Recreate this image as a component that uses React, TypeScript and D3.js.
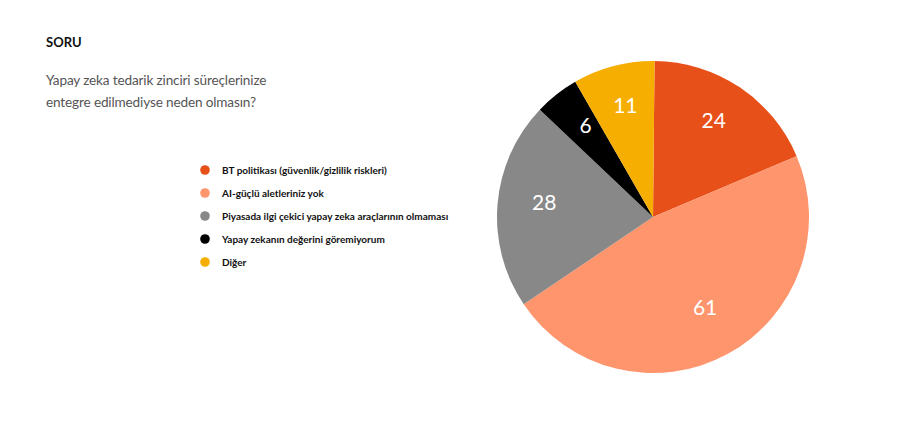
import * as d3 from 'd3'

const categories = [
    'BT politikası (güvenlik/gizlilik riskleri)',
    'AI-güçlü aletleriniz yok',
    'Piyasada ilgi çekici yapay zeka araçlarının olmaması',
    'Yapay zekanın değerini göremiyorum',
    'Diğer'
]
const values = [24, 61, 28, 6, 11]
const colors = ['#E8501A', '#FF956D', '#888888', '#000000', '#F6AE00']

const title = 'SORU'
const subtitle = ['Yapay zeka tedarik zinciri süreçlerinize', 'entegre edilmediyse neden olmasın?']

const W = 900
const H = 434
const FONT = "Lato, 'Noto Sans', sans-serif"

const App = () => {
    const radius = 156
    const cx = 653
    const cy = 217

    const data = values.map((v, i) => ({ value: v, label: categories[i], color: colors[i] }))
    const pie = d3
        .pie<{ value: number }>()
        .sort(null)
        .startAngle(0.01)
        .endAngle(Math.PI * 2 + 0.01)
        .value(d => d.value)
    const arcs = pie(data)
    const arc = d3.arc<d3.PieArcDatum<any>>().innerRadius(0).outerRadius(radius)
    const labelArc = d3
        .arc<d3.PieArcDatum<any>>()
        .innerRadius(radius * 0.7)
        .outerRadius(radius * 0.7)

    // legend rows
    const legendY = d3
        .scalePoint<number>()
        .domain(d3.range(categories.length))
        .range([170, 262])

    return (
        <svg
            width={W}
            height={H}
            style={{ position: 'absolute', left: 0, top: 0, background: '#fff' }}
            fontFamily={FONT}
        >
            <text x={46} y={47} fontSize={13} fontWeight={700} fill="#111">
                {title}
            </text>
            {subtitle.map((line, i) => (
                <text key={i} x={46} y={85 + i * 22} fontSize={13.6} letterSpacing={-0.15} fill="#555">
                    {line}
                </text>
            ))}

            <g>
                {data.map((d, i) => (
                    <g key={i} transform={`translate(205, ${legendY(i)})`}>
                        <circle r={4.8} fill={d.color} />
                        <text x={17} y={3.5} fontSize={10} fontWeight={700} fill="#111">
                            {d.label}
                        </text>
                    </g>
                ))}
            </g>

            <g transform={`translate(${cx}, ${cy})`}>
                {arcs.map((a, i) => (
                    <path key={i} d={arc(a) || ''} fill={a.data.color} />
                ))}
                {arcs.map((a, i) => {
                    const [x, y] = labelArc.centroid(a)
                    return (
                        <text
                            key={'l' + i}
                            x={x}
                            y={y}
                            dy="0.1em"
                            textAnchor="middle"
                            fontSize={21}
                            fill="#fff"
                        >
                            {a.data.value}
                        </text>
                    )
                })}
            </g>
        </svg>
    )
}

export default App
